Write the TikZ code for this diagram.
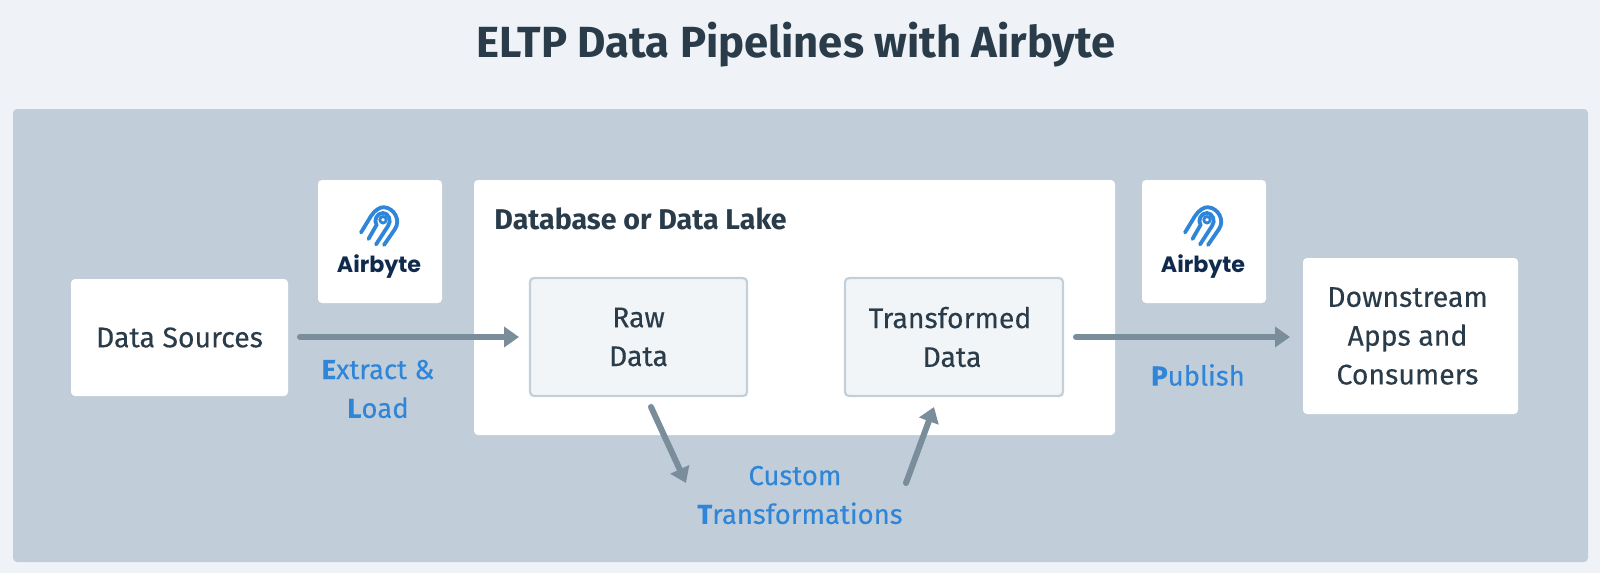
\documentclass[tikz,border=0pt]{standalone}
\usepackage{fontspec}
\setmainfont{Fira Sans}
\newfontfamily\abfont{Poppins}
\usetikzlibrary{arrows.meta}
\definecolor{bgc}{HTML}{EFF3F8}
\definecolor{panelc}{HTML}{C1CED9}
\definecolor{inkc}{HTML}{2A3B49}
\definecolor{bluec}{HTML}{2F86D8}
\definecolor{arrowc}{HTML}{7A8D9B}
\definecolor{innerc}{HTML}{F2F5F7}
\definecolor{edgec}{HTML}{C3D0DA}
\definecolor{navyc}{HTML}{0F2A4D}
\newcommand{\bodyfont}{\fontsize{13.75}{19.4}\selectfont\addfontfeature{FakeBold=0.25}}
\newcommand{\inkfont}{\fontsize{14.2}{19.4}\selectfont\addfontfeature{FakeBold=0.25}}
\tikzset{
 card/.style={fill=white,rounded corners=2pt,draw=none,inner sep=0pt,align=center,text=inkc,font=\inkfont},
 inner/.style={fill=innerc,draw=edgec,line width=1.1pt,rounded corners=2pt,inner sep=0pt,align=center,text=inkc,font=\inkfont},
 flow/.style={draw=arrowc,line width=3pt,line cap=round,-{Triangle[length=7.5pt,width=10pt]}},
 lab/.style={text=bluec,align=center,inner sep=0pt,font=\bodyfont},
}
\newcommand{\bl}[1]{\textbf{#1}}
\newcommand{\abyte}[2]{%
 \begin{scope}[shift={(#1,#2)},line cap=round,draw=bluec,line width=1.9pt]
  \draw (-19,6.5) -- (-9,-10) .. controls (-5,-16) and (0,-19) .. (4,-18.8) .. controls (14,-18) and (21,-6) .. (15,3) -- (4,19);
  \draw (-4,18.5) -- (8,0) .. controls (12,-5) and (8.5,-13) .. (3,-13) .. controls (-3,-13) and (-6.5,-6) .. (-3.5,-1) -- (-11.5,13);
  \draw[line width=1.4pt] (3,-6.2) circle (3.2);
  \node[text=navyc,inner sep=0pt,font=\fontsize{11.1}{14}\abfont\selectfont\bfseries] at (-1,41) {Airbyte};
 \end{scope}}
\begin{document}
\begin{tikzpicture}[x=0.5pt,y=-0.5pt]
\path[use as bounding box,fill=bgc] (0,0) rectangle (1600,573);
\fill[panelc,rounded corners=2pt] (13,109) rectangle (1588,562);
\node[text=inkc,font=\fontsize{21.8}{24}\selectfont\bfseries,inner sep=0pt] (title) at (796,45) {ELTP Data Pipelines with Airbyte};

\node[card,minimum width=108.5pt,minimum height=58.5pt] (src) at (179.5,337.5) {Data Sources};
\node[card,minimum width=62pt,minimum height=61.5pt] (ab1) at (380,241.5) {};
\node[card,minimum width=320.5pt,minimum height=127.5pt] (db) at (794.5,307.5) {};
\node[inner,minimum width=108.5pt,minimum height=59pt] (raw) at (638.5,337) {Raw\\Data};
\node[inner,minimum width=109pt,minimum height=59pt] (tr) at (954,337) {\hspace*{-4pt}Transformed\\\hspace*{-2pt}Data};
\node[card,minimum width=62pt,minimum height=61.5pt] (ab2) at (1204,241.5) {};
\node[card,minimum width=107.5pt,minimum height=78pt] (down) at (1410.5,336) {\hspace*{-3pt}Downstream\\\hspace*{-3pt}Apps and\\\hspace*{-3pt}Consumers};
\node[text=inkc,anchor=west,inner sep=0pt,font=\fontsize{14.3}{16}\selectfont\bfseries] (dbl) at (494,219) {Database or Data Lake};

\abyte{380}{226}
\abyte{1204}{226}

\coordinate (a1) at (300,337); \coordinate (a2) at (519,337);
\coordinate (b1) at (1076,337); \coordinate (b2) at (1290,337);
\coordinate (c1) at (651,407); \coordinate (c2) at (686,483);
\coordinate (d1) at (906,483); \coordinate (d2) at (934,407);
\draw[flow] (a1) -- (a2);
\draw[flow] (b1) -- (b2);
\draw[flow] (c1) -- (c2);
\draw[flow] (d1) -- (d2);

\node[lab] (l1) at (378,389) {\bl{E}xtract \&\\\bl{L}oad};
\node[lab] (l2) at (1198,375) {\bl{P}ublish};
\node[lab] (l3) at (800,495) {\hspace*{-5pt}Custom\\\bl{T}ransformations};
\end{tikzpicture}
\end{document}
